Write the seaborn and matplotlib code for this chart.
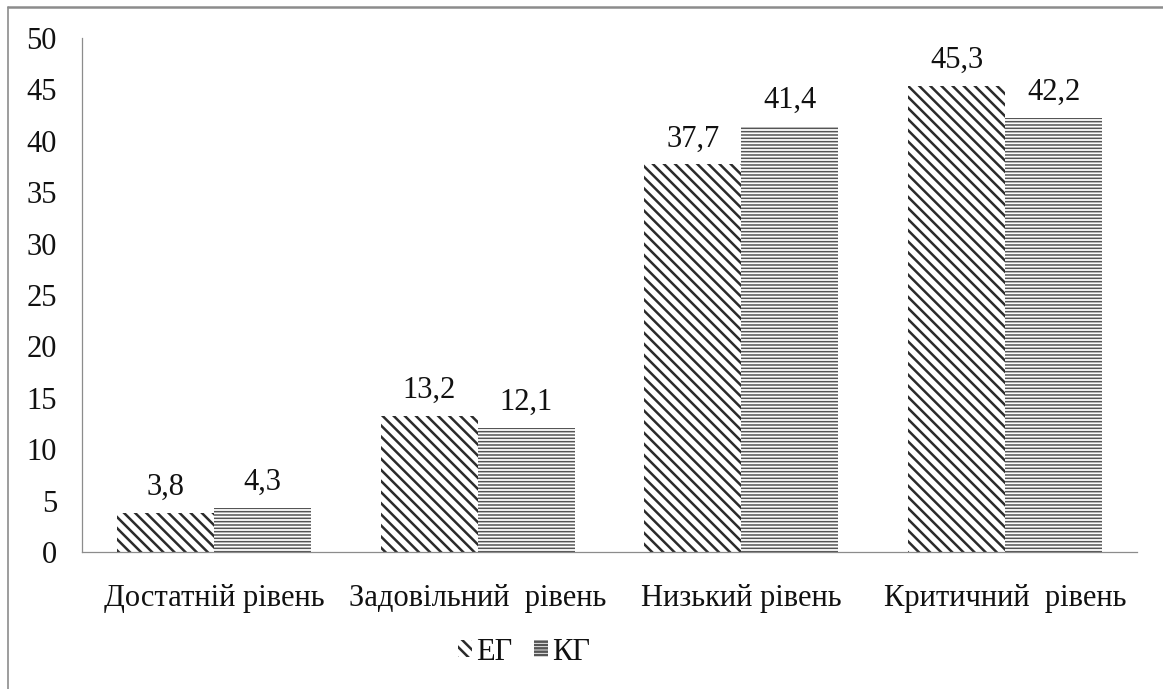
import matplotlib
matplotlib.use("Agg")
import matplotlib.pyplot as plt
import seaborn as sns
import pandas as pd
from matplotlib.patches import Patch
from matplotlib.lines import Line2D

categories = ["Достатній рівень", "Задовільний  рівень", "Низький рівень", "Критичний  рівень"]
groups = ["ЕГ", "КГ"]
eg_values = [3.8, 13.2, 37.7, 45.3]
kg_values = [4.3, 12.1, 41.4, 42.2]
y_ticks = [0, 5, 10, 15, 20, 25, 30, 35, 40, 45, 50]

df = pd.DataFrame({
    "category": categories * 2,
    "group": [groups[0]] * 4 + [groups[1]] * 4,
    "value": eg_values + kg_values,
})

sns.set_theme(style="white")
plt.rcParams["font.family"] = ["Liberation Serif", "DejaVu Serif"]
plt.rcParams["hatch.linewidth"] = 1.8

fig = plt.figure(figsize=(11.63, 6.89), dpi=100)
ax = fig.add_axes([82 / 1163, 1 - 552 / 689, (1137 - 82) / 1163, (552 - 38) / 689])

sns.barplot(data=df, x="category", y="value", hue="group", order=categories,
            hue_order=groups, palette=["white", "white"], width=0.735,
            ax=ax, legend=False, saturation=1)

styles = {
    0: dict(hatch="\\\\\\", color="#2b2b2b", hlw=1.8),
    1: dict(hatch="-----", color="#555555", hlw=1.1),
}
for i, cont in enumerate(ax.containers):
    st = styles[i]
    for bar in cont:
        bar.set_hatch(st["hatch"])
        bar.set_edgecolor(st["color"])
        bar.set_linewidth(0)
        if hasattr(bar, "set_hatch_linewidth"):
            bar.set_hatch_linewidth(st["hlw"])
    vals = eg_values if i == 0 else kg_values
    ax.bar_label(cont, labels=[f"{v:.1f}".replace(".", ",") for v in vals],
                 padding=8, fontsize=22, color="#111111")

ax.set_ylim(0, 50)
ax.set_yticks(y_ticks)
ax.set_yticklabels([str(t) for t in y_ticks])
ax.set_xlabel("")
ax.set_ylabel("")
ax.tick_params(axis="y", length=0, pad=18, labelsize=22, labelcolor="#111111")
ax.tick_params(axis="x", length=0, pad=23, labelsize=22, labelcolor="#111111")
for s in ["top", "right"]:
    ax.spines[s].set_visible(False)
for s in ["left", "bottom"]:
    ax.spines[s].set_color("#8c8c8c")
    ax.spines[s].set_linewidth(0.9)
ax.grid(False)

handles = []
for i, g in enumerate(groups):
    st = styles[i]
    p = Patch(facecolor="white", edgecolor=st["color"], hatch=st["hatch"], linewidth=0, label=g)
    if hasattr(p, "set_hatch_linewidth"):
        p.set_hatch_linewidth(st["hlw"] * 0.8)
    handles.append(p)
fig.legend(handles=handles, loc="center", bbox_to_anchor=(524 / 1163, 1 - 652 / 689),
           ncol=2, frameon=False, fontsize=22, handlelength=0.45, handleheight=0.5,
           handletextpad=0.15, columnspacing=0.7, labelcolor="#111111")

# outer chart border (top and left visible)
fig.add_artist(Line2D([8 / 1163, 1.0], [1 - 7 / 689, 1 - 7 / 689], transform=fig.transFigure,
                      color="#8c8c8c", linewidth=1.8))
fig.add_artist(Line2D([8 / 1163, 8 / 1163], [0.0, 1 - 7 / 689], transform=fig.transFigure,
                      color="#8c8c8c", linewidth=1.2))

fig.savefig("out.png", dpi=100, facecolor="white")
